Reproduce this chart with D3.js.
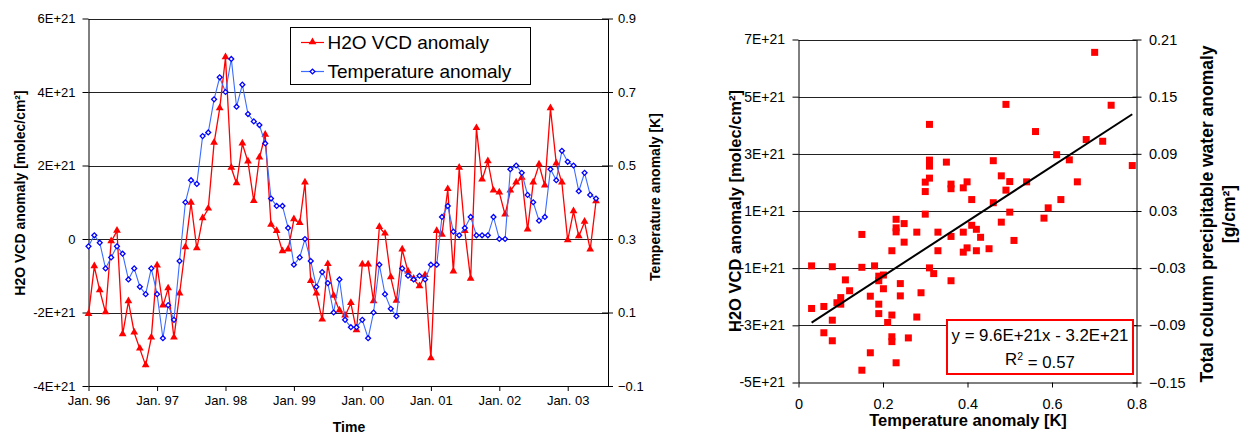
<!DOCTYPE html>
<html>
<head>
<meta charset="utf-8">
<script src="https://cdn.jsdelivr.net/npm/d3@7"></script>
<style>
  body { margin: 0; background: #fff; }
  svg { display: block; font-family: Arial, "Liberation Sans", sans-serif; }
</style>
</head>
<body>
<div id="chart"></div>
<script>
// monthly series, Jan 1996 .. Jun 2003
const startMonth = Date.UTC(1996, 0, 1);
const vcdAnomaly = [ // x 1E+21 molec/cm2
  -2.05, -0.75, -1.4, -2.0, -0.07, 0.22, -2.6, -1.7, -2.55, -2.99, -3.44, -2.69,
  -0.73, -1.82, -1.35, -2.69, -1.49, -0.23, 0.98, -0.26, 0.56, 0.82, 2.61, 3.55,
  4.94, 1.93, 1.51, 2.59, 2.1, 1.03, 2.21, 2.83, 0.38, 0.21, -0.34, -0.29,
  0.53, 0.43, 1.53, -1.15, -1.49, -2.2, -0.69, -1.55, -1.95, -2.09, -1.75, -2.49,
  -0.7, -0.7, -1.7, 0.32, 0.14, -1.05, -1.69, -0.29, -0.89, -1.09, -1.29, -0.99,
  -3.25, 0.21, 0.11, 1.35, -0.89, 1.93, 0.21, -1.09, 3.01, 1.61, 2.11, 1.31,
  1.26, 0.66, 1.31, 1.53, 1.66, 0.25, 1.53, 2.02, 1.45, 3.55, 2.05, 1.53,
  -0.04, 0.75, 0.07, 0.46, -0.29, 1.02
];
const tempAnomaly = [ // K
  0.28, 0.31, 0.29, 0.22, 0.25, 0.28, 0.26, 0.19, 0.22, 0.17, 0.15, 0.22,
  0.15, 0.03, 0.12, 0.08, 0.24, 0.40, 0.46, 0.45, 0.58, 0.59, 0.68, 0.74,
  0.70, 0.79, 0.66, 0.72, 0.64, 0.62, 0.61, 0.56, 0.41, 0.39, 0.39, 0.33,
  0.23, 0.25, 0.30, 0.24, 0.17, 0.21, 0.18, 0.10, 0.19, 0.08, 0.06, 0.06,
  0.08, 0.03, 0.10, 0.23, 0.15, 0.11, 0.09, 0.22, 0.20, 0.19, 0.20, 0.19,
  0.23, 0.23, 0.36, 0.39, 0.32, 0.31, 0.33, 0.36, 0.31, 0.31, 0.31, 0.36,
  0.30, 0.30, 0.49, 0.50, 0.48, 0.42, 0.40, 0.35, 0.36, 0.49, 0.46, 0.54,
  0.51, 0.50, 0.43, 0.48, 0.42, 0.41
];
const vcdTicks = [-4e21, -2e21, 0, 2e21, 4e21, 6e21];
const tempTicks = [-0.1, 0.1, 0.3, 0.5, 0.7, 0.9];

// scatter: temperature anomaly vs H2O VCD anomaly (x 1E+21)
const scatterTemp = [
  0.031, 0.031, 0.060, 0.060, 0.080, 0.080, 0.080, 0.091, 0.100, 0.100, 0.111, 0.121,
  0.150, 0.150, 0.150, 0.170, 0.170, 0.180, 0.190, 0.190, 0.190, 0.190, 0.201, 0.201,
  0.211, 0.221, 0.221, 0.221, 0.221, 0.231, 0.231, 0.231, 0.231, 0.241, 0.241, 0.250,
  0.250, 0.260, 0.280, 0.280, 0.290, 0.300, 0.300, 0.300, 0.310, 0.310, 0.310, 0.310,
  0.310, 0.320, 0.330, 0.330, 0.350, 0.361, 0.361, 0.361, 0.361, 0.390, 0.390, 0.390,
  0.399, 0.399, 0.410, 0.410, 0.421, 0.421, 0.431, 0.451, 0.461, 0.461, 0.480, 0.480,
  0.491, 0.491, 0.500, 0.500, 0.510, 0.540, 0.561, 0.581, 0.591, 0.611, 0.621, 0.641,
  0.660, 0.681, 0.701, 0.720, 0.740, 0.790
];
const scatterVcd = [
  -0.92, -2.41, -2.34, -3.26, -0.95, -2.82, -3.54, -2.21, -2.03, -2.26, -1.41, -1.79,
  0.18, -0.97, -4.57, -1.98, -3.96, -0.92, -1.28, -1.44, -2.26, -2.59, -1.24, -1.72,
  -2.90, -0.39, -2.64, -3.40, -3.57, 0.71, 0.41, 0.27, -4.31, -1.54, -1.97, 0.56,
  -0.09, -3.44, 0.26, -2.71, -1.86, 2.01, 1.68, 0.89, 4.03, 2.78, 2.57, 2.15,
  -0.99, -1.19, 0.26, -0.39, 2.71, 1.94, 1.78, 0.11, -1.44, 1.81, 0.26, -0.44,
  2.02, -0.29, 1.40, 0.50, 0.36, -0.39, 0.08, -0.32, 2.76, 1.29, 2.23, 0.61,
  4.73, 1.73, 2.03, 0.96, -0.03, 2.02, 3.78, 0.75, 1.11, 2.97, 1.40, 2.79,
  2.02, 3.50, 6.55, 3.44, 4.70, 2.59
];
const trendSlope = 9.6e21, trendIntercept = -3.2e21;
const scatterVcdTicks = [-5e21, -3e21, -1e21, 1e21, 3e21, 5e21, 7e21];
const pwTicks = [-0.15, -0.09, -0.03, 0.03, 0.09, 0.15, 0.21];
const scatterTempTicks = [0, 0.2, 0.4, 0.6, 0.8];

const fmtE = v => v === 0 ? "0" : Math.round(v / 1e21) + "E+21";

const svg = d3.select("#chart").append("svg")
  .attr("width", 1240).attr("height", 434);

function styleAxis(g, size) {
  g.selectAll("path.domain").attr("stroke", "#000").attr("stroke-width", 1);
  g.selectAll(".tick line").attr("stroke", "#000");
  g.selectAll("text").attr("fill", "#000").attr("font-size", size)
    .attr("font-family", "Arial, 'Liberation Sans', sans-serif");
}

// ---------- left chart: time series ----------
const L = { x0: 88.5, x1: 608, y0: 18.5, y1: 386 };
const dates = vcdAnomaly.map((d, i) => d3.utcMonth.offset(new Date(startMonth), i));

const xTime = d3.scaleUtc()
  .domain([new Date(startMonth), new Date(Date.UTC(2003, 7, 4))])
  .range([L.x0, L.x1]);
const yVcd = d3.scaleLinear().domain([-4e21, 6e21]).range([L.y1, L.y0]);
const yTemp = d3.scaleLinear().domain([-0.1, 0.9]).range([L.y1, L.y0]);

svg.append("g").selectAll("line")
  .data(vcdTicks.slice(1))
  .enter().append("line")
  .attr("x1", L.x0).attr("x2", L.x1)
  .attr("y1", d => Math.round(yVcd(d)) + 0.5).attr("y2", d => Math.round(yVcd(d)) + 0.5)
  .attr("stroke", "#222").attr("stroke-width", 1);

const axL = svg.append("g").attr("transform", `translate(${L.x0},0)`)
  .call(d3.axisLeft(yVcd).tickValues(vcdTicks).tickFormat(fmtE)
    .tickSize(6).tickSizeOuter(0).tickPadding(7));
styleAxis(axL, 13);

const axR = svg.append("g").attr("transform", `translate(${L.x1},0)`)
  .call(d3.axisRight(yTemp).tickValues(tempTicks).tickFormat(d3.format(".1f"))
    .tickSize(5).tickSizeOuter(0).tickPadding(5));
axR.selectAll(".tick line").attr("x1", -6);
styleAxis(axR, 13);

const axB = svg.append("g").attr("transform", `translate(0,${L.y1})`)
  .call(d3.axisBottom(xTime).ticks(d3.utcYear.every(1))
    .tickFormat(d3.utcFormat("%b. %y")).tickSize(5).tickSizeOuter(0).tickPadding(5));
styleAxis(axB, 13);

const vcdLine = d3.line().x((d, i) => xTime(dates[i])).y(d => yVcd(d * 1e21));
const tempLine = d3.line().x((d, i) => xTime(dates[i])).y(d => yTemp(d));

svg.append("path").datum(vcdAnomaly)
  .attr("d", vcdLine).attr("fill", "none")
  .attr("stroke", "#ff0000").attr("stroke-width", 1.3);
svg.append("g").selectAll("path")
  .data(vcdAnomaly).enter().append("path")
  .attr("d", d3.symbol(d3.symbolTriangle, 26))
  .attr("transform", (d, i) => `translate(${xTime(dates[i])},${yVcd(d * 1e21) - 0.5})`)
  .attr("fill", "#ff0000");

svg.append("path").datum(tempAnomaly)
  .attr("d", tempLine).attr("fill", "none")
  .attr("stroke", "#3b6cff").attr("stroke-width", 1.1);
svg.append("g").selectAll("path")
  .data(tempAnomaly).enter().append("path")
  .attr("d", d3.symbol(d3.symbolSquare, 12))
  .attr("transform", (d, i) => `translate(${xTime(dates[i])},${yTemp(d)}) rotate(45)`)
  .attr("fill", "#fff").attr("stroke", "#0000ff").attr("stroke-width", 1.3);

// legend
const leg = svg.append("g");
leg.append("rect").attr("x", 290.5).attr("y", 27.5).attr("width", 240).attr("height", 57)
  .attr("fill", "#fff").attr("stroke", "#000");
[["H2O VCD anomaly", 42.5, "#ff0000"], ["Temperature anomaly", 71.5, "#3b6cff"]].forEach(([label, y, c], k) => {
  leg.append("line").attr("x1", 301).attr("x2", 324).attr("y1", y).attr("y2", y)
    .attr("stroke", c).attr("stroke-width", 1.2);
  if (k === 0) {
    leg.append("path").attr("d", d3.symbol(d3.symbolTriangle, 26))
      .attr("transform", `translate(312.5,${y - 0.5})`).attr("fill", "#ff0000");
  } else {
    leg.append("path").attr("d", d3.symbol(d3.symbolSquare, 12))
      .attr("transform", `translate(312.5,${y}) rotate(45)`)
      .attr("fill", "#fff").attr("stroke", "#0000ff").attr("stroke-width", 1.3);
  }
  leg.append("text").attr("x", 327.5).attr("y", y).attr("dy", "0.35em")
    .attr("font-size", 19).text(label);
});

svg.append("text").attr("transform", "translate(20,193) rotate(-90)")
  .attr("text-anchor", "middle").attr("dy", "0.35em")
  .attr("font-size", 14).attr("font-weight", "bold")
  .text("H2O VCD anomaly [molec/cm²]");
svg.append("text").attr("transform", "translate(655,197) rotate(-90)")
  .attr("text-anchor", "middle").attr("dy", "0.35em")
  .attr("font-size", 14).attr("font-weight", "bold")
  .text("Temperature anomaly [K]");
svg.append("text").attr("x", 349).attr("y", 427).attr("dy", "0.35em")
  .attr("text-anchor", "middle").attr("font-size", 14).attr("font-weight", "bold")
  .text("Time");

// ---------- right chart: scatter ----------
const R = { x0: 798.5, x1: 1136.5, y0: 39.5, y1: 382.5 };
const xS = d3.scaleLinear().domain([0, 0.8]).range([R.x0, R.x1]);
const yS = d3.scaleLinear().domain([-5e21, 7e21]).range([R.y1, R.y0]);
const yPw = d3.scaleLinear().domain([-0.15, 0.21]).range([R.y1, R.y0]);

svg.append("g").selectAll("line")
  .data(scatterVcdTicks.slice(1))
  .enter().append("line")
  .attr("x1", R.x0).attr("x2", R.x1)
  .attr("y1", d => Math.round(yS(d)) + 0.5).attr("y2", d => Math.round(yS(d)) + 0.5)
  .attr("stroke", "#222").attr("stroke-width", 1);

const sL = svg.append("g").attr("transform", `translate(${R.x0},0)`)
  .call(d3.axisLeft(yS).tickValues(scatterVcdTicks).tickFormat(fmtE)
    .tickSize(6).tickSizeOuter(0).tickPadding(7.5));
styleAxis(sL, 14);

const sR = svg.append("g").attr("transform", `translate(${R.x1},0)`)
  .call(d3.axisRight(yPw).tickValues(pwTicks).tickFormat(d3.format(".2f"))
    .tickSize(5).tickSizeOuter(0).tickPadding(7.5));
sR.selectAll(".tick line").attr("x1", -4);
styleAxis(sR, 14.5);

const sB = svg.append("g").attr("transform", `translate(0,${R.y1})`)
  .call(d3.axisBottom(xS).tickValues(scatterTempTicks).tickFormat(d3.format(".1~f"))
    .tickSize(5).tickSizeOuter(0).tickPadding(11));
styleAxis(sB, 14.5);

svg.append("g").selectAll("rect")
  .data(scatterTemp).enter().append("rect")
  .attr("x", d => xS(d) - 3.5)
  .attr("y", (d, i) => yS(scatterVcd[i] * 1e21) - 3.5)
  .attr("width", 7).attr("height", 7)
  .attr("fill", "#ff0000");

const tExtent = d3.extent(scatterTemp);
svg.append("path").datum(tExtent)
  .attr("d", d3.line().x(t => xS(t)).y(t => yS(trendSlope * t + trendIntercept)))
  .attr("stroke", "#000").attr("stroke-width", 2).attr("fill", "none");

const eq = svg.append("g");
eq.append("rect").attr("x", 947).attr("y", 320).attr("width", 186).attr("height", 54)
  .attr("fill", "#fff").attr("stroke", "#ff0000").attr("stroke-width", 2);
eq.append("text").attr("x", 1040).attr("y", 335).attr("dy", "0.35em")
  .attr("text-anchor", "middle").attr("font-size", 16.8)
  .text("y = 9.6E+21x - 3.2E+21");
const r2 = eq.append("text").attr("x", 1040).attr("y", 359).attr("dy", "0.35em")
  .attr("text-anchor", "middle").attr("font-size", 16.8);
r2.append("tspan").text("R");
r2.append("tspan").attr("dy", "-0.45em").attr("font-size", 10.5).text("2");
r2.append("tspan").attr("dy", "0.45em").text(" = 0.57");

svg.append("text").attr("transform", "translate(735,211) rotate(-90)")
  .attr("text-anchor", "middle").attr("dy", "0.35em")
  .attr("font-size", 16.5).attr("font-weight", "bold")
  .text("H2O VCD anomaly [molec/cm²]");
const pwLab = svg.append("text").attr("transform", "translate(1207,214) rotate(-90)")
  .attr("text-anchor", "middle").attr("font-size", 17.5).attr("font-weight", "bold");
pwLab.append("tspan").attr("x", 0).attr("dy", "0.35em")
  .text("Total column precipitable water anomaly");
pwLab.append("tspan").attr("x", 0).attr("dy", "1.25em").text("[g/cm²]");
svg.append("text").attr("x", 968).attr("y", 420).attr("dy", "0.35em")
  .attr("text-anchor", "middle").attr("font-size", 16.5).attr("font-weight", "bold")
  .text("Temperature anomaly [K]");
</script>
</body>
</html>
